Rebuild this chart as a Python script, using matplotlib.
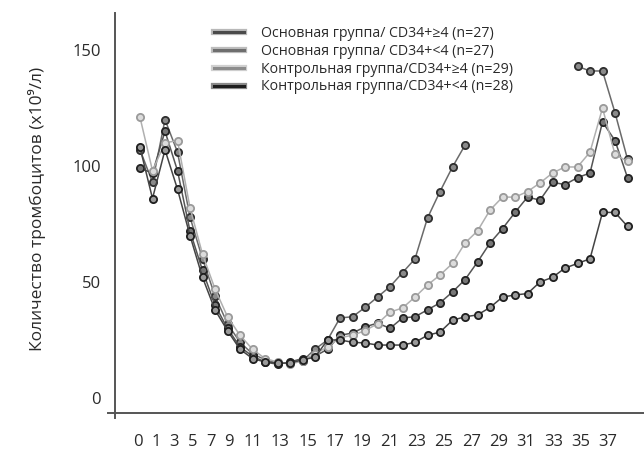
import numpy as np
import matplotlib
matplotlib.use("Agg")
import matplotlib.pyplot as plt
from matplotlib.lines import Line2D
import matplotlib.patheffects as pe

plt.rcParams['font.family'] = ['Open Sans', 'DejaVu Sans']

nan = np.nan
days = list(range(0, 40))

# Основная группа / CD34+ >= 4
s_main_hi = [107, 93, 120, 106, 78, 60, 44, 32, 24, 19, 16.5, 15, 15, 16, 21, 25,
             34.5, 35, 39, 43.5, 48, 54, 60, 77.6, 89, 99.6, 109,
             nan, nan, nan, nan, nan, nan, nan, nan, 143, 141, 141, 123, 103]
# Основная группа / CD34+ < 4
s_main_lo = [99, 97, 115, 98, 72, 55, 40, 30, 22, 18, 15.5, 14.5, 15.5, 17, 18, 21,
             27, 28, 30.6, 32.3, 30, 34.5, 35, 38, 41, 45.7, 51,
             58.6, 66.8, 73, 80, 86.6, 85.3, 93, 92, 95, 97, 119, 111, 95]
# Контрольная группа / CD34+ >= 4
s_ctrl_hi = [121, 98, 110, 111, 82, 62, 47, 35, 27, 21, 17, 15.5, 14.5, 16, 19, 22,
             26, 27, 29, 32, 37, 38.8, 43.5, 48.7, 53, 58, 66.8,
             72, 81, 86.6, 86.6, 89, 92.7, 97, 99.6, 99.6, 106, 125, 105, 102]
# Контрольная группа / CD34+ < 4
s_ctrl_lo = [108, 86, 107, 90, 70, 52, 38, 29, 21, 17, 15.5, 15, 15, 16.5, 17.5, 25,
             25, 24, 23.7, 22.8, 22.8, 22.8, 24, 27, 28.4, 33.5, 35,
             35.8, 39, 43.5, 44.4, 45, 50, 52, 56, 58, 60, 80, 80, 74]

series_labels = ["Основная группа/ CD34+≥4 (n=27)",
                 "Основная группа/ CD34+<4 (n=27)",
                 "Контрольная группа/CD34+≥4 (n=29)",
                 "Контрольная группа/CD34+<4 (n=28)"]

x_tick_labels = ["0", "1", "3", "5", "7", "9", "11", "13", "15", "17", "19",
                 "21", "23", "25", "27", "29", "31", "33", "35", "37"]
y_ticks = [0, 50, 100, 150]

fig = plt.figure(figsize=(6.44, 4.49), dpi=100)
W, H = 644, 449
ax = fig.add_axes([115 / W, 1 - 413 / H, (W - 115) / W, 400 / H])

# pixel scale of the reference: day d at 140 + 12.5*d px
px0, pxd = 140.0, 12.5
ax.set_xlim((115 - px0) / pxd, (W - px0) / pxd)
ax.set_ylim(-6.5, 166)

styles = [
    dict(color="#6a6a6a", mec="#2e2e2e", mfc="#8a8a8a"),
    dict(color="#555555", mec="#222222", mfc="#777777"),
    dict(color="#b0b0b0", mec="#9a9a9a", mfc="#dcdcdc"),
    dict(color="#444444", mec="#1e1e1e", mfc="#9a9a9a"),
]
data = [s_main_hi, s_main_lo, s_ctrl_hi, s_ctrl_lo]
order = [2, 0, 1, 3]
for i in order:
    st = styles[i]
    ax.plot(days, data[i], color=st["color"], lw=1.1, marker="o", ms=5.2,
            mec=st["mec"], mfc=st["mfc"], mew=1.3, zorder=3 + i)

# axes styling
for s in ["top", "right"]:
    ax.spines[s].set_visible(False)
for s in ["left", "bottom"]:
    ax.spines[s].set_color("#555555")
    ax.spines[s].set_linewidth(1.4)
ax.plot([-7 / 529, 0], [0, 0], transform=ax.transAxes, color="#555555", lw=1.4, clip_on=False)
ax.plot([0, 0], [-5 / 400, 0], transform=ax.transAxes, color="#555555", lw=1.4, clip_on=False)

ax.set_yticks(y_ticks)
ax.set_yticklabels([str(v) for v in y_ticks])
ax.tick_params(axis="y", length=0, pad=10, labelsize=12, labelcolor="#2a2a2a")

# x tick labels are spaced like a typed string in the reference
single_step, double_step = 18.2, 27.3
pos_px = []
p = 138.0
for k, lab in enumerate(x_tick_labels):
    if k > 0:
        prev = x_tick_labels[k - 1]
        if len(prev) == 1 and len(lab) == 1:
            p += single_step
        elif len(prev) == 1:
            p += 24.0
        else:
            p += double_step
    pos_px.append(p)
tick_pos = [(q - px0) / pxd for q in pos_px]
ax.set_xticks(tick_pos)
ax.set_xticklabels(x_tick_labels)
ax.tick_params(axis="x", length=0, pad=15, labelsize=12, labelcolor="#2a2a2a")

ax.set_ylabel("Количество тромбоцитов (x10⁹/л)", fontsize=12.5, color="#2a2a2a")
ax.yaxis.set_label_coords(-69 / 529, 0.51)

# legend
leg_cols = [("#4a4a4a", "#b8b8b8"), ("#6e6e6e", "#bdbdbd"),
            ("#8c8c8c", "#d0d0d0"), ("#1e1e1e", "#8a8a8a")]
handles = []
for c, edge in leg_cols:
    h = Line2D([0], [0], color=c, lw=2.2,
               path_effects=[pe.Stroke(linewidth=4.5, foreground=edge), pe.Normal()])
    handles.append(h)
leg = ax.legend(handles, series_labels, loc="upper left",
                bbox_to_anchor=(214 / W, 1 - 26 / H), bbox_transform=fig.transFigure,
                frameon=False, fontsize=10.2, handlelength=2.1, handletextpad=1.25,
                labelspacing=0.2, borderpad=0, borderaxespad=0)
for t in leg.get_texts():
    t.set_color("#2a2a2a")

fig.savefig("out.png", dpi=100)
